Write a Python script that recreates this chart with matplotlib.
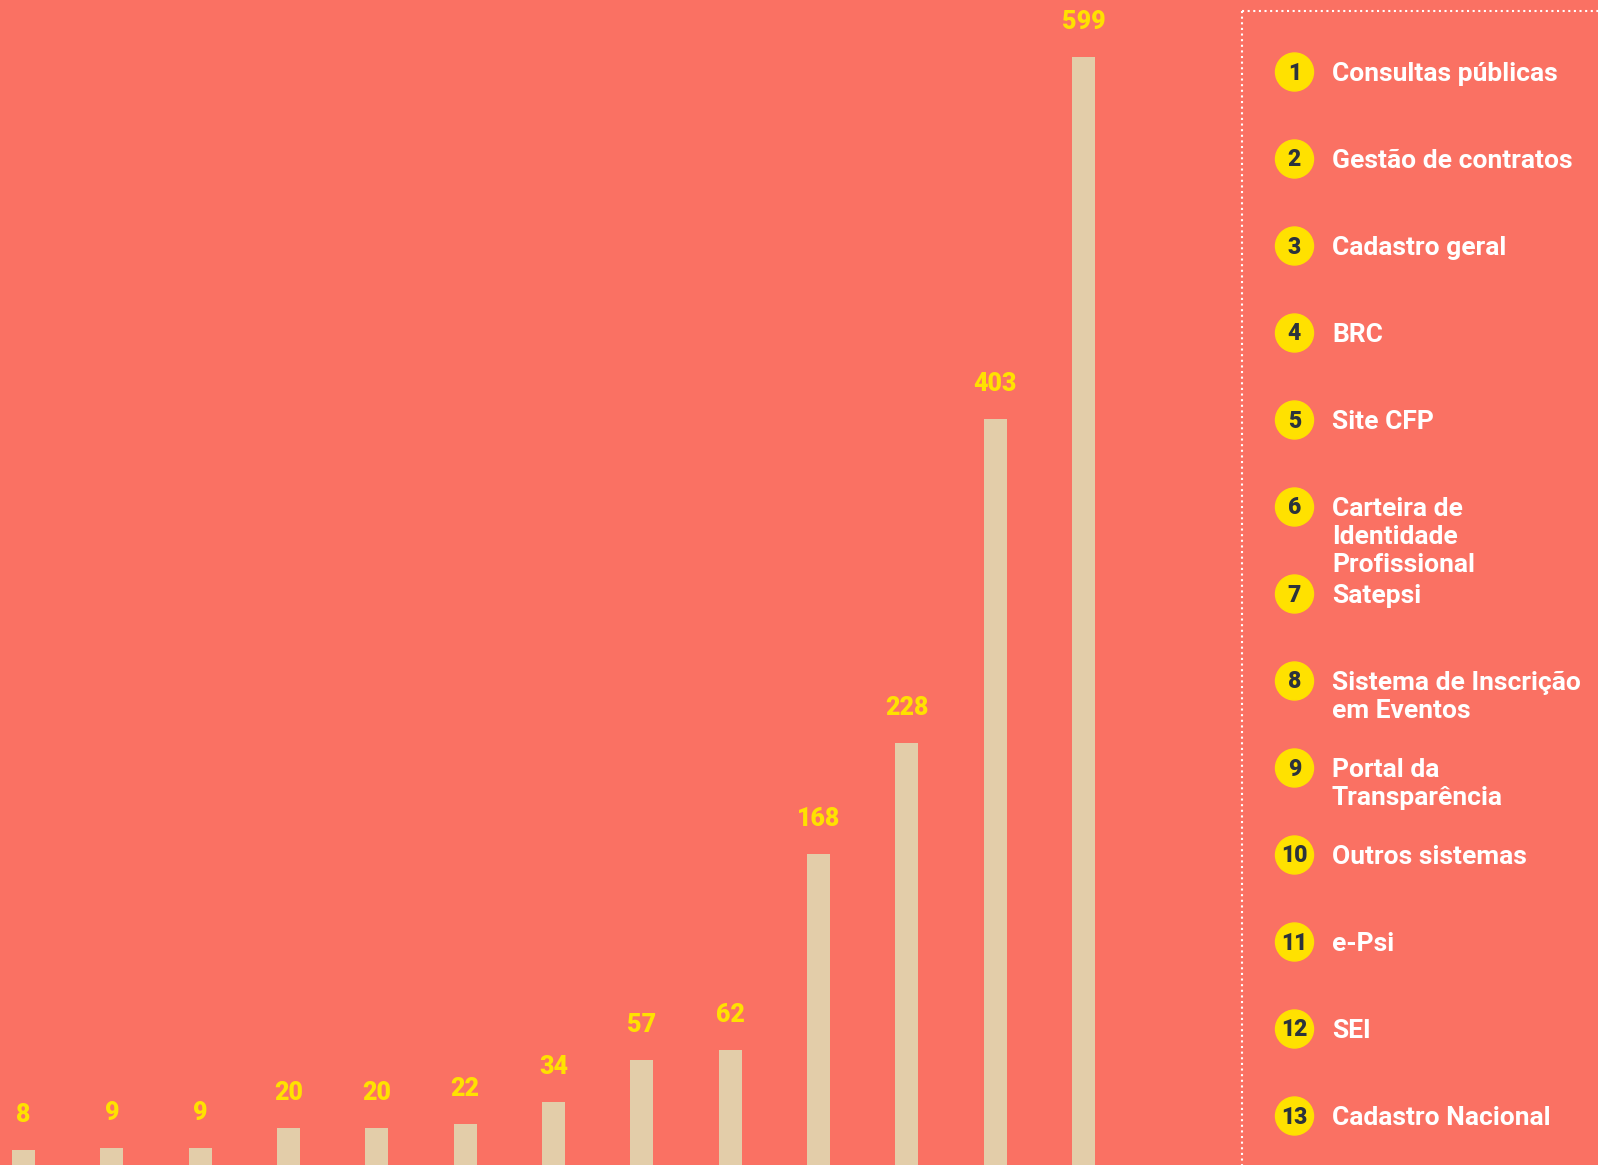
import matplotlib.pyplot as plt
from matplotlib.patches import Circle

# values per system, smallest to largest (system number = position in legend)
values = [8, 9, 9, 20, 20, 22, 34, 57, 62, 168, 228, 403, 599]
systems = ["Consultas públicas", "Gestão de contratos", "Cadastro geral", "BRC",
           "Site CFP", "Carteira de\nIdentidade\nProfissional", "Satepsi",
           "Sistema de Inscrição\nem Eventos", "Portal da\nTransparência",
           "Outros sistemas", "e-Psi", "SEI", "Cadastro Nacional"]

BG = "#FA7163"
BAR = "#E3CDA9"
YELLOW = "#FFE100"
DARK = "#2B333D"
W, H = 1598, 1165

plt.rcParams['font.family'] = ['Roboto', 'DejaVu Sans']

fig = plt.figure(figsize=(W / 100, H / 100), dpi=100, facecolor=BG)

# bar chart area (left part of the figure)
step = 88.33
x0 = 23.5
ax_w = 1242
ax = fig.add_axes([0, 0, ax_w / W, 1])
ax.set_facecolor(BG)
xs = list(range(len(values)))
ax.bar(xs, values, width=23 / step, color=BAR)
ax.set_xlim(-x0 / step, (ax_w - x0) / step)
ax.set_ylim(0, H / 1.85)
for x, v in zip(xs, values):
    ax.annotate(str(v), (x, v), xytext=(0, 35), textcoords="offset pixels",
                ha="center", va="center", color=YELLOW, fontsize=18,
                fontweight="black")
ax.axis("off")

# legend area in pixel coordinates
lg = fig.add_axes([0, 0, 1, 1], facecolor="none")
lg.set_xlim(0, W)
lg.set_ylim(H, 0)
lg.axis("off")

lg.plot([1242, 1242], [11, H], color="white", lw=1.5, ls=(0, (1, 1.7)),
        dash_capstyle="butt")
lg.plot([1242, W], [11, 11], color="white", lw=1.5, ls=(0, (1, 1.7)),
        dash_capstyle="butt")

row0, row_step = 72, 87
for i, name in enumerate(systems):
    y = row0 + i * row_step
    lg.add_patch(Circle((1294.5, y), 19, color=YELLOW, zorder=3))
    lg.text(1294.5, y + 1, str(i + 1), ha="center", va="center", color=DARK,
            fontsize=16.5, fontweight="black", zorder=4)
    lg.text(1332, y - 10, name, ha="left", va="top", color="white",
            fontsize=19, fontweight="bold", linespacing=1.2)

fig.savefig("out.png", dpi=100, facecolor=BG)
